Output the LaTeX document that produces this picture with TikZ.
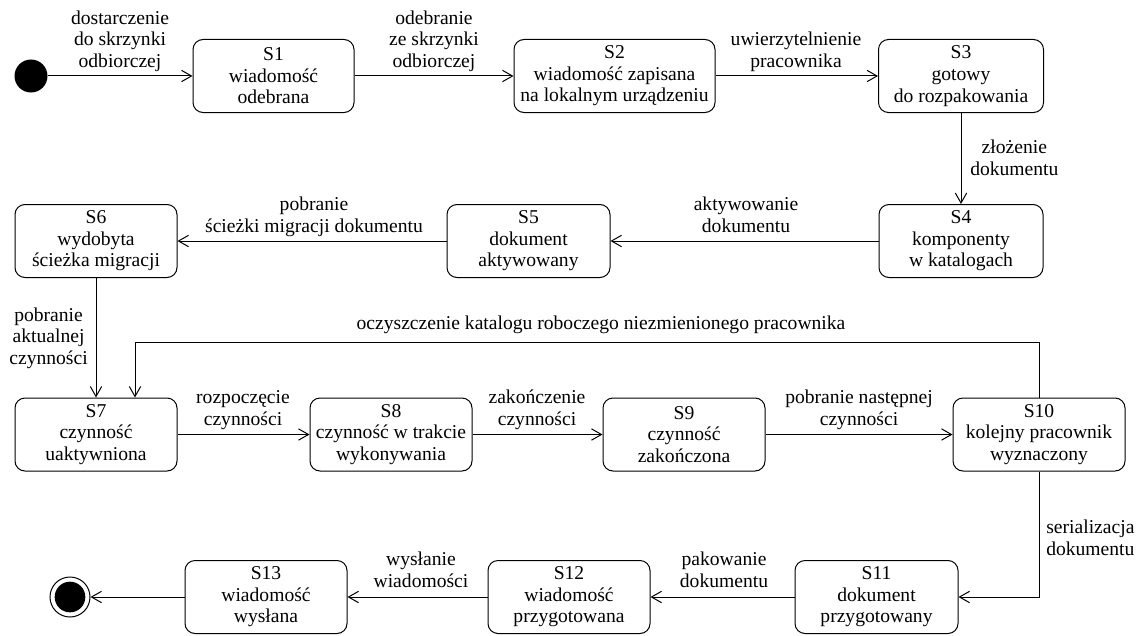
\documentclass[tikz,border=0pt]{standalone}
\usepackage{fontspec}
\setmainfont{Liberation Serif}
\newfontfamily\diagfont{Liberation Serif}
\usetikzlibrary{arrows.meta}
\begin{document}
\begin{tikzpicture}[x=0.75pt,y=-0.75pt,
  every node/.style={font=\diagfont\fontsize{14.7}{16.2}\selectfont},
  state/.style={draw, line width=0.75pt, rounded corners=7.5pt, align=center,
    minimum height=73*0.75pt, inner sep=0pt},
  lbl/.style={align=center, inner sep=0pt},
  lblb/.style={lbl, anchor=south, execute at end node=\strut},
  trans/.style={line width=0.75pt, -{Straight Barb[length=7.5pt,width=8.5pt]}},
]
\useasboundingbox (0,0) rectangle (1148,635);

% initial and final pseudo-states
\node[circle, fill=black, minimum size=33*0.75pt, inner sep=0pt] (start) at (31,76) {};
\node[circle, draw, line width=0.75pt, minimum size=40*0.75pt, inner sep=0pt] (end) at (70,597) {};
\fill[black] (end.center) circle[radius=11.5pt];

% states
\node[state, minimum width=161*0.75pt] (s1) at (273.5,76) {S1\\wiadomość\\odebrana};
\node[state, minimum width=201*0.75pt] (s2) at (614.5,76) {S2\\wiadomość zapisana\\na lokalnym urządzeniu};
\node[state, minimum width=165*0.75pt] (s3) at (961,76) {S3\\gotowy\\do rozpakowania};
\node[state, minimum width=164*0.75pt] (s4) at (961,241) {S4\\komponenty\\w katalogach};
\node[state, minimum width=163*0.75pt] (s5) at (528.5,241) {S5\\dokument\\aktywowany};
\node[state, minimum width=162*0.75pt] (s6) at (96,241) {S6\\wydobyta\\ścieżka migracji};
\node[state, minimum width=162*0.75pt] (s7) at (96,434.5) {S7\\czynność\\uaktywniona};
\node[state, minimum width=162*0.75pt] (s8) at (391,434.5) {S8\\czynność w trakcie\\wykonywania};
\node[state, minimum width=162*0.75pt] (s9) at (684,434.5) {S9\\czynność\\zakończona};
\node[state, minimum width=172*0.75pt] (s10) at (1039,434.5) {S10\\kolejny pracownik\\wyznaczony};
\node[state, minimum width=163*0.75pt] (s11) at (876.5,597) {S11\\dokument\\przygotowany};
\node[state, minimum width=162*0.75pt] (s12) at (569,597) {S12\\wiadomość\\przygotowana};
\node[state, minimum width=162*0.75pt] (s13) at (266,597) {S13\\wiadomość\\wysłana};

% bends of the loop back to S7
\coordinate (k1) at (1039,342);
\coordinate (k2) at (135,342);

% transitions
\draw[trans] (start) -- (s1);
\draw[trans] (s1) -- (s2);
\draw[trans] (s2) -- (s3);
\draw[trans] (s3) -- (s4);
\draw[trans] (s4) -- (s5);
\draw[trans] (s5) -- (s6);
\draw[trans] (s6) -- (s7);
\draw[trans] (s7) -- (s8);
\draw[trans] (s8) -- (s9);
\draw[trans] (s9) -- (s10);
\draw[trans] (s10.north) -- (k1) -- (k2) -- (k2 |- s7.north);
\draw[trans] (s10.south) |- (s11.east);
\draw[trans] (s11) -- (s12);
\draw[trans] (s12) -- (s13);
\draw[trans] (s13) -- (end);

% transition labels
\node[lblb] (t1) at (120,74) {dostarczenie\\do skrzynki\\odbiorczej};
\node[lblb] (t2) at (434,74) {odebranie\\ze skrzynki\\odbiorczej};
\node[lblb] (t3) at (796,74) {uwierzytelnienie\\pracownika};
\node[lbl, anchor=west] (t4) at (970,158) {złożenie\\dokumentu};
\node[lblb] (t5) at (746,239) {aktywowanie\\dokumentu};
\node[lblb] (t6) at (314,239) {pobranie\\ścieżki migracji dokumentu};
\node[lbl, anchor=east] (t7) at (88,338) {pobranie\\aktualnej\\czynności};
\node[lblb] (t8) at (601,336) {oczyszczenie katalogu roboczego niezmienionego pracownika};
\node[lblb] (t9) at (243,432) {rozpoczęcie\\czynności};
\node[lblb] (t10) at (537,432) {zakończenie\\czynności};
\node[lblb] (t11) at (859,432) {pobranie następnej\\czynności};
\node[lbl, anchor=west] (t12) at (1046,538) {serializacja\\dokumentu};
\node[lblb] (t13) at (724,594) {pakowanie\\dokumentu};
\node[lblb] (t14) at (421,594) {wysłanie\\wiadomości};
\end{tikzpicture}
\end{document}
